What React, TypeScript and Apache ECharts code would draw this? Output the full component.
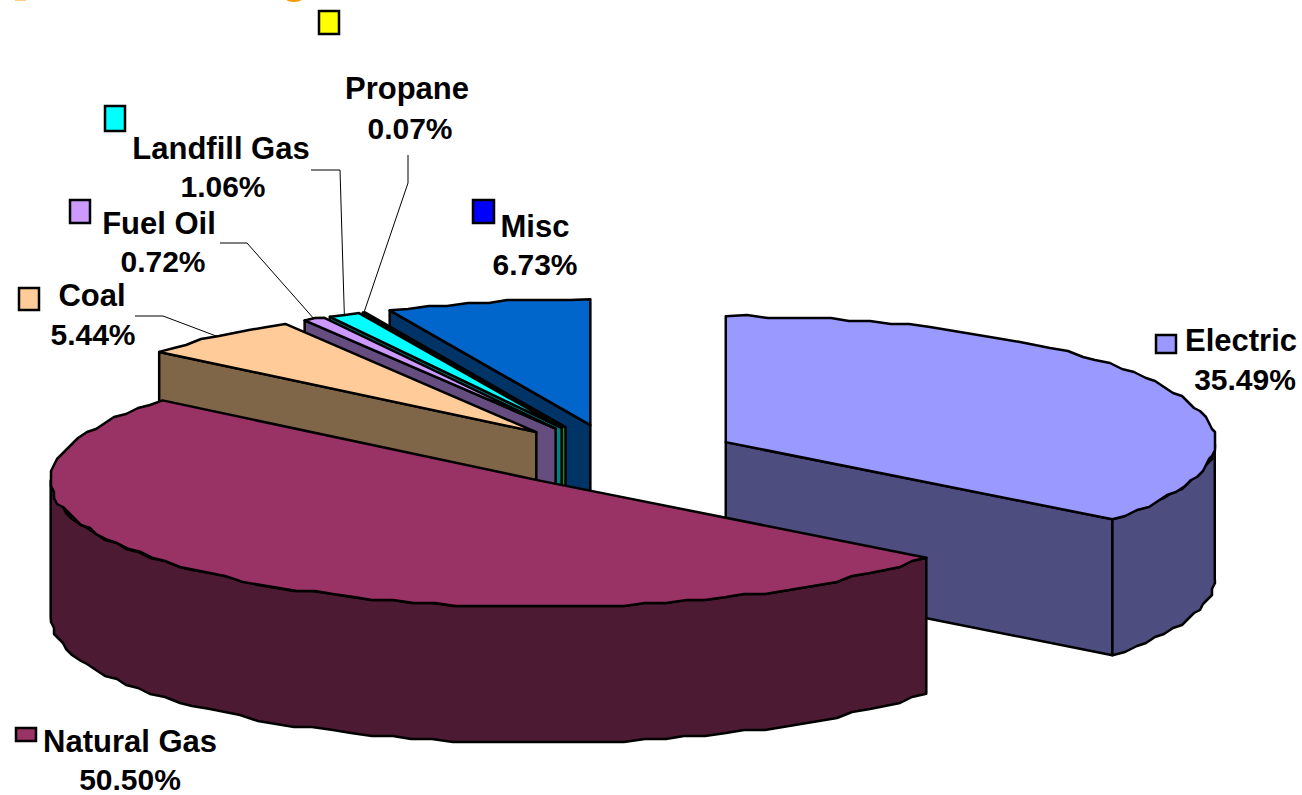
import React, { useEffect, useRef } from "react";
import * as echarts from "echarts";

const categories = ["Electric", "Natural Gas", "Coal", "Fuel Oil", "Landfill Gas", "Propane", "Misc"];
const shares = [35.49, 50.5, 5.44, 0.72, 1.06, 0.07, 6.73];
const topColors = ["#9999ff", "#993366", "#ffcc99", "#cc99ff", "#00ffff", "#ffff00", "#0066cc"];
const wallColors = ["#4d4d80", "#4d1a33", "#806648", "#664d80", "#008080", "#1a8a1a", "#003366"];
const keyColors = ["#9999ff", "#993366", "#ffcc99", "#cc99ff", "#00ffff", "#ffff00", "#0000ff"];

// Back-to-front painting sequence, as indices into the arrays above.
const paintOrder = [6, 5, 4, 3, 2, 0, 1];

// Pie projection
const CX = 616;
const CY = 456;
const RX = 489;
const RY = 126;
const DEPTH = 136;
const EXPLODE = 0.25;
const SNAP = 3;

const total = shares.reduce((a, b) => a + b, 0);
const DEG = Math.PI / 180;

function sliceAngles(i: number) {
  const before = shares.slice(0, i).reduce((a, b) => a + b, 0);
  const start = (before / total) * 360;
  const end = ((before + shares[i]) / total) * 360;
  return { start, end, mid: (start + end) / 2 };
}

function project(ax: number, ay: number, deg: number): [number, number] {
  return [ax + RX * Math.sin(deg * DEG), ay - RY * Math.cos(deg * DEG)];
}

function apex(i: number): [number, number] {
  const { mid } = sliceAngles(i);
  const p = project(0, 0, mid);
  return [CX + EXPLODE * p[0], CY + EXPLODE * p[1]];
}

// Rim as a coarse polyline: inner vertices sit on a low-resolution grid, which gives the edge its slight wobble.
function rim(ax: number, ay: number, from: number, to: number): [number, number][] {
  const steps = Math.max(1, Math.ceil((to - from) / 2.5));
  const pts: [number, number][] = [];
  for (let s = 0; s <= steps; s++) {
    const p = project(ax, ay, from + ((to - from) * s) / steps);
    const inner = s > 0 && s < steps;
    pts.push(inner ? [Math.round(p[0] / SNAP) * SNAP, Math.round(p[1] / SNAP) * SNAP] : p);
  }
  return pts;
}

function drop(pts: [number, number][]): [number, number][] {
  return pts.map(([x, y]) => [x, y + DEPTH] as [number, number]).reverse();
}

const outline = { stroke: "#000", lineWidth: 2.5, lineJoin: "round" };

function renderSlice(params: any) {
  const i = paintOrder[params.dataIndex];
  const { start, end } = sliceAngles(i);
  const [ax, ay] = apex(i);
  const children: any[] = [];
  const wall = (pts: [number, number][]) =>
    children.push({
      type: "polygon",
      shape: { points: pts },
      style: { fill: wallColors[i], ...outline },
    });

  const a: [number, number] = [ax, ay];
  const s = project(ax, ay, start);
  const e = project(ax, ay, end);
  // Only faces turned toward the viewer are drawn.
  if (Math.sin(start * DEG) < -1e-6) wall([a, s, [s[0], s[1] + DEPTH], [ax, ay + DEPTH]]);
  if (Math.sin(end * DEG) > 1e-6) wall([a, e, [e[0], e[1] + DEPTH], [ax, ay + DEPTH]]);
  const frontFrom = Math.max(start, 90);
  const frontTo = Math.min(end, 270);
  if (frontFrom < frontTo) {
    const arc = rim(ax, ay, frontFrom, frontTo);
    wall([...arc, ...drop(arc)]);
  }
  children.push({
    type: "polygon",
    shape: { points: [a, ...rim(ax, ay, start, end)] },
    style: { fill: topColors[i], ...outline },
  });
  return { type: "group", children };
}

// Label centres and legend keys, in category order.
const nameX = [1241, 130, 92, 159, 221, 407, 535];
const nameY = [340, 741, 295, 223, 148, 88, 226];
const valueX = [1245, 130, 93, 163, 223, 410, 535];
const valueY = [379, 779, 334, 261, 186, 128, 264];
const keyBoxes = [
  [1156, 335, 20, 18],
  [16, 728, 20, 13],
  [19, 288, 20, 22],
  [70, 200, 20, 23],
  [105, 106, 20, 25],
  [319, 11, 20, 23],
  [473, 200, 21, 23],
];
// Elbow of each leader line; the far end runs to the middle of the slice's rim.
const leaders: { slice: number; from: [number, number]; elbow: [number, number] }[] = [
  { slice: 2, from: [135, 316], elbow: [163, 316] },
  { slice: 3, from: [220, 243], elbow: [247, 243] },
  { slice: 4, from: [311, 170], elbow: [340, 170] },
  { slice: 5, from: [408, 155], elbow: [408, 183] },
];

function buildGraphics() {
  const els: any[] = [
    // Descender tips of a heading that runs off the top of the page.
    { type: "ellipse", shape: { cx: 294, cy: -1, rx: 8, ry: 3 }, style: { fill: "#ff9900" } },
    { type: "rect", shape: { x: 15, y: 0, width: 11, height: 1 }, style: { fill: "#ffcc80" } },
  ];
  categories.forEach((name, i) => {
    const [x, y, width, height] = keyBoxes[i];
    els.push({
      type: "rect",
      shape: { x, y, width, height },
      style: { fill: keyColors[i], stroke: "#000", lineWidth: 2.5 },
    });
    els.push({
      type: "text",
      x: nameX[i],
      y: nameY[i],
      style: {
        text: name,
        font: 'bold 31px "Liberation Sans", Arial, sans-serif',
        fill: "#000",
        align: "center",
        verticalAlign: "middle",
      },
    });
    els.push({
      type: "text",
      x: valueX[i],
      y: valueY[i],
      style: {
        text: `${shares[i].toFixed(2)}%`,
        font: 'bold 30px "Liberation Sans", Arial, sans-serif',
        fill: "#000",
        align: "center",
        verticalAlign: "middle",
      },
    });
  });
  leaders.forEach(({ slice, from, elbow }) => {
    const [ax, ay] = apex(slice);
    const end = project(ax, ay, sliceAngles(slice).mid);
    els.push({
      type: "polyline",
      shape: { points: [from, elbow, end] },
      style: { stroke: "#000", lineWidth: 1, fill: "none" },
    });
  });
  return els;
}

export default function App() {
  const ref = useRef<HTMLDivElement>(null);
  useEffect(() => {
    document.body.style.margin = "0";
    const chart = echarts.init(ref.current!, undefined, { renderer: "svg" });
    chart.setOption({
      animation: false,
      backgroundColor: "#ffffff",
      graphic: { elements: buildGraphics() },
      series: [
        {
          type: "custom",
          coordinateSystem: "none",
          silent: true,
          renderItem: renderSlice,
          data: paintOrder.map((i) => shares[i]),
        },
      ],
    });
    return () => chart.dispose();
  }, []);
  return <div ref={ref} style={{ width: 1302, height: 795 }} />;
}
